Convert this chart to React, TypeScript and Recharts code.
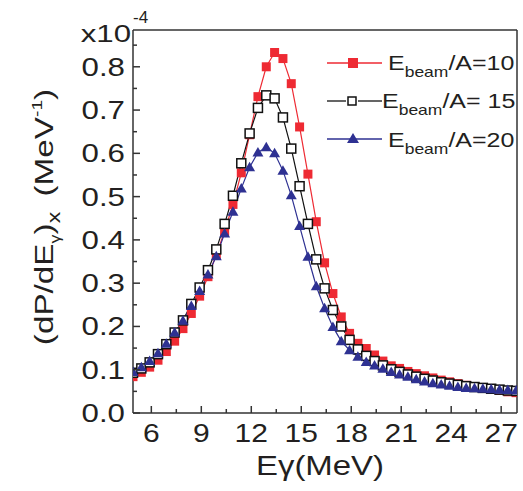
import React from 'react'
import {
  ComposedChart,
  Line,
  XAxis,
  YAxis,
  ReferenceLine,
  Legend,
} from 'recharts'

// photon energy (MeV), one point every 0.5 MeV
const E_GAMMA = [
  4.9, 5.4, 5.9, 6.4, 6.9, 7.4, 7.9, 8.4, 8.9, 9.4,
  9.9, 10.4, 10.9, 11.4, 11.9, 12.4, 12.9, 13.4, 13.9, 14.4,
  14.9, 15.4, 15.9, 16.4, 16.9, 17.4, 17.9, 18.4, 18.9, 19.4,
  19.9, 20.4, 20.9, 21.4, 21.9, 22.4, 22.9, 23.4, 23.9, 24.4,
  24.9, 25.4, 25.9, 26.4, 26.9, 27.4, 27.9,
]

// dP/dE (x1e-4 MeV^-1), Ebeam/A = 10
const A10 = [
  0.084, 0.094, 0.106, 0.122, 0.142, 0.166, 0.195, 0.230, 0.270, 0.315,
  0.365, 0.420, 0.482, 0.555, 0.643, 0.731, 0.800, 0.833, 0.819, 0.761,
  0.661, 0.552, 0.442, 0.347, 0.276, 0.222, 0.184, 0.161, 0.149, 0.134,
  0.120, 0.109, 0.103, 0.096, 0.091, 0.086, 0.081, 0.076, 0.072, 0.068,
  0.064, 0.061, 0.058, 0.055, 0.052, 0.049, 0.047,
]

// Ebeam/A = 15
const A15 = [
  0.093, 0.103, 0.117, 0.136, 0.159, 0.186, 0.214, 0.252, 0.290, 0.330,
  0.378, 0.437, 0.502, 0.577, 0.646, 0.705, 0.734, 0.727, 0.683, 0.611,
  0.524, 0.437, 0.355, 0.288, 0.238, 0.200, 0.169, 0.147, 0.132, 0.120,
  0.110, 0.101, 0.095, 0.089, 0.084, 0.079, 0.075, 0.071, 0.068, 0.065,
  0.062, 0.060, 0.058, 0.056, 0.054, 0.052, 0.051,
]

// Ebeam/A = 20
const A20 = [
  0.095, 0.106, 0.120, 0.138, 0.160, 0.186, 0.213, 0.247, 0.282, 0.320,
  0.362, 0.415, 0.465, 0.519, 0.568, 0.602, 0.614, 0.600, 0.560, 0.503,
  0.432, 0.361, 0.293, 0.242, 0.199, 0.166, 0.145, 0.130, 0.118, 0.110,
  0.102, 0.095, 0.089, 0.084, 0.078, 0.073, 0.069, 0.066, 0.063, 0.060,
  0.058, 0.057, 0.056, 0.055, 0.054, 0.053, 0.052,
]

const X_TICKS = [6, 7.5, 9, 10.5, 12, 13.5, 15, 16.5, 18, 19.5, 21, 22.5, 24, 25.5, 27]
const Y_TICKS = [0, 0.05, 0.1, 0.15, 0.2, 0.25, 0.3, 0.35, 0.4, 0.45, 0.5, 0.55, 0.6, 0.65, 0.7, 0.75, 0.8, 0.85]

const X_MIN = 4.9
const X_MAX = 27.95
const Y_MAX = 0.885

const RED = '#ee2a33'
const BLACK = '#111111'
const BLUE = '#2e3192'
const AXIS = '#333333'
const INK = '#231f20'
const FONT = '"Liberation Sans", Arial, sans-serif'

const data = E_GAMMA.map((e, i) => ({ e, a10: A10[i], a15: A15[i], a20: A20[i] }))

function XTick({ x, y, payload }: any) {
  const v = payload.value
  const major = Math.abs(v % 3) < 1e-6
  return (
    <g>
      <line x1={x} y1={y} x2={x} y2={y - (major ? 7 : 4)} stroke={AXIS} strokeWidth={1.5} />
      {major && (
        <text
          transform={`translate(${x},${y + 29}) scale(1.2,1)`}
          textAnchor="middle"
          fontSize={25}
          fontFamily={FONT}
          fill={INK}
        >
          {v}
        </text>
      )}
    </g>
  )
}

function YTick({ x, y, payload }: any) {
  const v = payload.value
  const major = Math.round(v * 100) % 10 === 0
  return (
    <g>
      <line x1={x} y1={y} x2={x + (major ? 7 : 4)} y2={y} stroke={AXIS} strokeWidth={1.5} />
      {major && (
        <text
          transform={`translate(${x - 8},${y + 9}) scale(1.25,1)`}
          textAnchor="end"
          fontSize={25}
          fontFamily={FONT}
          fill={INK}
        >
          {v.toFixed(1)}
        </text>
      )}
    </g>
  )
}

function YTitle() {
  return (
    <g fontFamily={FONT} fill={INK}>
      <text transform="translate(53,217) rotate(-90) scale(1.28,1)" textAnchor="middle" fontSize={26}>
        (dP/dE
        <tspan dy={7} fontSize={14}>γ</tspan>
        <tspan dy={-7}>)</tspan>
        <tspan dy={7} fontSize={18}>x</tspan>
        <tspan dy={-7} dx={12}>(MeV</tspan>
        <tspan dy={-11} fontSize={15}>-1</tspan>
        <tspan dy={11}>)</tspan>
      </text>
      <text transform="translate(131,42) scale(1.3,1)" textAnchor="end" fontSize={24}>x10</text>
      <text x={133} y={23} fontSize={17}>-4</text>
    </g>
  )
}

function XTitle() {
  return (
    <text
      transform="translate(320,475) scale(1.22,1)"
      textAnchor="middle"
      fontSize={27}
      fontFamily={FONT}
      fill={INK}
    >
      Eγ(MeV)
    </text>
  )
}

const squareDot = (fill: string, stroke: string) => (p: any) => (
  <rect
    key={`s${p.index}`}
    x={p.cx - 4.5}
    y={p.cy - 4.5}
    width={9}
    height={9}
    fill={fill}
    stroke={stroke}
    strokeWidth={1.5}
  />
)

const triangleDot = (p: any) => (
  <path
    key={`t${p.index}`}
    d={`M${p.cx},${p.cy - 5.5} L${p.cx + 5.5},${p.cy + 4} L${p.cx - 5.5},${p.cy + 4} Z`}
    fill={BLUE}
  />
)

const ROWS = [
  { label: '/A=10', color: RED, y: 23, tx: 68, ty: 30, marker: 'fill' },
  { label: '/A= 15', color: BLACK, y: 61, tx: 62, ty: 68, marker: 'open' },
  { label: '/A=20', color: BLUE, y: 99, tx: 68, ty: 107, marker: 'tri' },
]

function LegendBox() {
  return (
    <svg width={200} height={120} fontFamily={FONT}>
      {ROWS.map(r => (
        <g key={r.label}>
          <line x1={7} x2={r.marker === 'open' ? 26 : 62} y1={r.y} y2={r.y} stroke={r.color} strokeWidth={1.3} />
          {r.marker === 'open' && <line x1={38} x2={62} y1={r.y} y2={r.y} stroke={r.color} strokeWidth={1.3} />}
          {r.marker === 'fill' && <rect x={28} y={r.y - 5} width={10} height={10} fill={r.color} />}
          {r.marker === 'open' && <rect x={28} y={r.y - 4} width={8} height={8} fill="#fff" stroke={r.color} strokeWidth={1.5} />}
          {r.marker === 'tri' && <path d={`M33,${r.y - 6} L39,${r.y + 4} L27,${r.y + 4} Z`} fill={r.color} />}
          <text transform={`translate(${r.tx},${r.ty}) scale(1.25,1)`} fontSize={20} fill={INK}>
            E<tspan dy={7} fontSize={14}>beam</tspan>
            <tspan dy={-7} style={{ whiteSpace: 'pre' }}>{r.label}</tspan>
          </text>
        </g>
      ))}
    </svg>
  )
}

export default function App() {
  return (
    <div style={{ position: 'absolute', left: 0, top: 0, background: '#fff' }}>
      <ComposedChart
        width={523}
        height={491}
        data={data}
        margin={{ top: 30, right: 6, left: 0, bottom: 0 }}
      >
        <XAxis
          dataKey="e"
          type="number"
          domain={[X_MIN, X_MAX]}
          ticks={X_TICKS}
          interval={0}
          allowDataOverflow
          height={78}
          tickSize={0}
          tickMargin={0}
          tickLine={false}
          tick={<XTick />}
          axisLine={{ stroke: AXIS, strokeWidth: 1.5 }}
          label={<XTitle />}
        />
        <YAxis
          type="number"
          domain={[0, Y_MAX]}
          ticks={Y_TICKS}
          interval={0}
          allowDataOverflow
          width={133}
          tickSize={0}
          tickMargin={0}
          tickLine={false}
          tick={<YTick />}
          axisLine={{ stroke: AXIS, strokeWidth: 1.5 }}
          label={<YTitle />}
        />
        <ReferenceLine y={Y_MAX} stroke={AXIS} strokeWidth={1.5} ifOverflow="visible" />
        <ReferenceLine x={X_MAX} stroke={AXIS} strokeWidth={1.5} ifOverflow="visible" />
        <Legend
          layout="horizontal"
          verticalAlign="middle"
          align="center"
          content={<LegendBox />}
          wrapperStyle={{ left: 320, top: 40, width: 200, height: 120 }}
        />
        <Line
          dataKey="a10"
          stroke={RED}
          strokeWidth={1.2}
          dot={squareDot(RED, 'none')}
          activeDot={false}
          isAnimationActive={false}
        />
        <Line
          dataKey="a15"
          stroke={BLACK}
          strokeWidth={1.2}
          dot={squareDot('#fff', BLACK)}
          activeDot={false}
          isAnimationActive={false}
        />
        <Line
          dataKey="a20"
          stroke={BLUE}
          strokeWidth={1.2}
          dot={triangleDot}
          activeDot={false}
          isAnimationActive={false}
        />
      </ComposedChart>
    </div>
  )
}
